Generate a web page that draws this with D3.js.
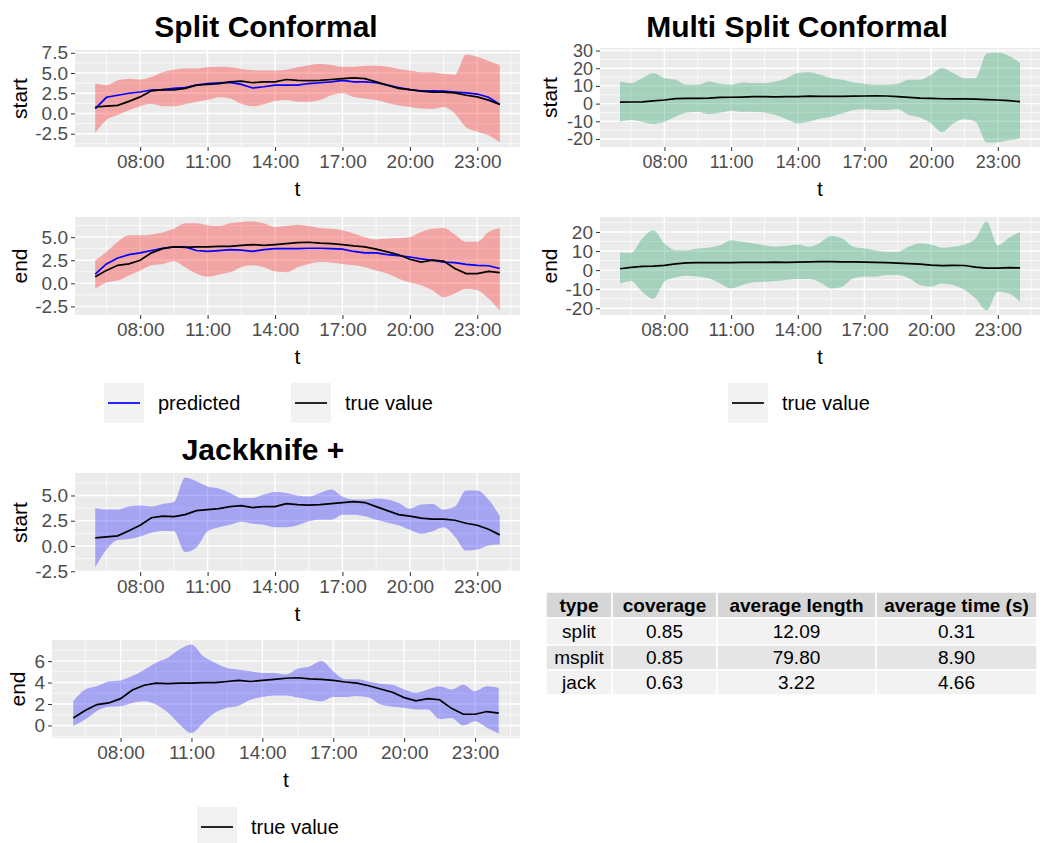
<!DOCTYPE html>
<html>
<head>
<meta charset="utf-8">
<script src="https://cdn.jsdelivr.net/npm/d3@7"></script>
<style>
  body { margin: 0; background: #fff; }
  text { font-family: "Liberation Sans", Arial, sans-serif; }
</style>
</head>
<body>
<svg id="chart" width="1043" height="843"></svg>
<script>
// time of day in hours, every half hour from 06:00 to 24:00
const hours = [6, 6.5, 7, 7.5, 8, 8.5, 9, 9.5, 10, 10.5, 11, 11.5, 12, 12.5, 13, 13.5, 14, 14.5, 15,
               15.5, 16, 16.5, 17, 17.5, 18, 18.5, 19, 19.5, 20, 20.5, 21, 21.5, 22, 22.5, 23, 23.5, 24];

// true values (shared by all methods)
const trueStart = [0.8, 0.9, 1.0, 1.5, 2.05, 2.8, 2.95, 2.9, 3.1, 3.5, 3.6, 3.7, 3.9, 4.0, 3.8, 3.9, 3.9, 4.2, 4.1,
                   4.05, 4.1, 4.2, 4.3, 4.4, 4.3, 3.9, 3.5, 3.1, 2.95, 2.75, 2.65, 2.65, 2.55, 2.25, 2.05, 1.65, 1.1];
const trueEnd = [0.7, 1.4, 1.95, 2.1, 2.5, 3.3, 3.75, 3.95, 3.9, 3.95, 3.95, 4.0, 4.0, 4.1, 4.2, 4.1, 4.2, 4.3, 4.4,
                 4.45, 4.35, 4.3, 4.2, 4.05, 3.95, 3.7, 3.4, 3.1, 2.6, 2.3, 2.5, 2.4, 1.6, 1.05, 1.05, 1.3, 1.15];

// split conformal
const splitStartPred = [0.6, 2.0, 2.25, 2.5, 2.65, 2.9, 2.95, 3.1, 3.2, 3.5, 3.7, 3.8, 3.85, 3.6, 3.15, 3.3, 3.5, 3.5, 3.5,
                        3.7, 3.8, 3.9, 4.1, 3.9, 3.9, 3.8, 3.5, 3.2, 2.95, 2.8, 2.8, 2.75, 2.65, 2.55, 2.4, 2.0, 1.1];
const splitStartLo = [-2.4, -0.8, -0.2, 0.4, 0.9, 1.2, 0.9, 0.9, 1.15, 1.45, 1.65, 2.0, 1.85, 1.2, 0.9, 1.15, 1.55, 1.65, 1.45,
                      1.45, 1.65, 2.25, 2.5, 2.05, 1.85, 1.65, 1.3, 1.0, 0.8, 0.6, 0.55, 0.8, 0.0, -1.7, -2.25, -2.7, -3.6];
const splitStartHi = [3.7, 3.5, 4.1, 4.3, 4.2, 4.5, 5.1, 5.4, 5.55, 5.55, 5.7, 5.76, 5.7, 5.5, 5.35, 5.3, 5.3, 5.4, 5.7,
                      5.97, 6.1, 6.0, 5.76, 5.76, 5.9, 5.9, 5.76, 5.5, 5.3, 5.1, 5.1, 4.9, 4.8, 7.3, 7.0, 6.5, 6.0];
const splitEndPred = [1.0, 2.1, 2.75, 3.1, 3.3, 3.55, 3.8, 3.95, 3.95, 3.55, 3.45, 3.55, 3.65, 3.6, 3.45, 3.65, 3.75, 3.75, 3.75,
                      3.8, 3.8, 3.75, 3.7, 3.45, 3.3, 3.3, 3.1, 3.0, 2.85, 2.65, 2.5, 2.3, 2.25, 2.05, 1.95, 1.9, 1.6];
const splitEndLo = [-0.6, 0.1, 0.3, 0.85, 1.4, 1.95, 2.1, 2.4, 1.75, 1.05, 0.7, 0.95, 1.2, 1.75, 1.95, 1.75, 1.3, 1.2, 1.75,
                    2.1, 2.3, 2.25, 2.1, 1.95, 1.75, 1.4, 1.05, 0.5, 0.1, -0.2, -0.75, -1.5, -1.1, -0.6, -0.75, -1.65, -2.95];
const splitEndHi = [2.5, 3.4, 4.5, 5.2, 5.2, 5.3, 5.5, 5.9, 6.5, 6.5, 6.3, 6.2, 6.5, 6.65, 6.7, 6.5, 6.1, 6.2, 6.35,
                    6.2, 6.0, 5.9, 5.75, 5.4, 5.0, 4.75, 4.85, 4.9, 5.0, 5.55, 5.9, 6.0, 5.3, 4.5, 4.5, 5.55, 6.0];

// multi split conformal
const msStartLo = [-10.3, -9.3, -10.3, -11.6, -10.3, -7.4, -5.1, -4.6, -5.9, -5.1, -4.0, -4.6, -4.6, -5.1, -6.5, -8.9, -11.2, -10.3, -8.4,
                   -7.4, -5.5, -3.6, -3.2, -3.6, -3.6, -3.2, -6.5, -7.8, -11.2, -16.0, -11.2, -8.9, -10.3, -22.0, -21.8, -20.7, -19.8];
const msStartHi = [12.5, 11.6, 14.4, 17.3, 14.4, 13.5, 10.6, 10.6, 12.5, 11.2, 10.6, 12.0, 11.6, 11.6, 12.5, 14.4, 17.3, 17.7, 16.3,
                   14.4, 13.5, 12.0, 11.2, 10.6, 10.6, 11.2, 13.5, 13.5, 16.3, 20.2, 17.3, 14.4, 14.4, 28.3, 28.9, 27.0, 23.0];
const msEndLo = [-7.0, -5.7, -11.3, -15.1, -6.0, -3.8, -3.0, -3.5, -4.3, -7.0, -9.6, -7.8, -6.4, -6.1, -5.7, -5.2, -4.7, -4.7, -6.4,
                 -9.6, -8.7, -4.3, -3.5, -3.5, -2.6, -2.6, -4.3, -7.8, -8.7, -7.0, -7.8, -10.4, -14.8, -21.2, -11.3, -12.2, -16.5];
const msEndHi = [9.2, 9.0, 16.5, 20.9, 13.9, 10.4, 10.4, 11.3, 11.7, 13.0, 15.7, 14.8, 13.9, 13.0, 12.2, 12.7, 13.4, 12.2, 14.4,
                 17.9, 16.5, 12.2, 11.3, 10.4, 9.6, 9.6, 12.2, 13.9, 13.4, 11.7, 12.2, 13.4, 16.5, 25.5, 13.0, 17.0, 20.0];

// jackknife +
const jackStartLo = [-2.13, -0.35, 0.6, 0.7, 0.95, 1.3, 1.5, 1.45, -0.6, -0.15, 1.45, 1.85, 2.1, 2.4, 2.2, 2.1, 1.85, 1.85, 2.05,
                     2.45, 2.6, 2.6, 3.1, 3.1, 2.95, 2.6, 2.3, 2.05, 1.6, 1.2, 1.45, 1.85, 0.95, -0.45, -0.35, 0.05, 0.15];
const jackStartHi = [3.75, 3.6, 3.6, 3.9, 4.0, 3.9, 4.15, 4.35, 6.78, 6.4, 5.9, 5.7, 5.25, 4.75, 4.75, 5.1, 5.35, 5.25, 5.0,
                     4.9, 5.25, 5.6, 4.9, 4.6, 4.6, 4.7, 4.6, 4.25, 3.7, 4.1, 4.15, 3.6, 3.9, 5.5, 5.5, 4.6, 2.95];
const jackEndLo = [-0.05, 0.55, 1.35, 1.75, 1.8, 2.1, 2.25, 1.95, 1.2, 0.1, -0.7, 0.25, 1.2, 1.65, 1.85, 2.4, 2.65, 2.8, 2.8,
                   2.6, 2.4, 2.25, 2.65, 2.65, 2.75, 2.6, 1.95, 1.75, 1.65, 1.5, 1.5, 0.6, 0.7, 0.0, 0.4, -0.2, -0.75];
const jackEndHi = [2.25, 3.35, 3.65, 4.1, 4.2, 4.6, 5.2, 5.85, 6.3, 7.1, 7.55, 6.45, 5.85, 5.35, 5.2, 5.05, 4.9, 4.9, 4.75,
                   5.3, 5.5, 6.0, 5.05, 4.3, 4.3, 4.1, 3.9, 3.8, 3.35, 3.05, 3.35, 3.65, 3.35, 3.8, 3.2, 3.65, 3.5];

// axis breaks
const xBreaks = [5, 8, 11, 14, 17, 20, 23];
const smallBreaks = [-2.5, 0, 2.5, 5, 7.5];
const msBreaks = [-20, -10, 0, 10, 20, 30];
const jackEndBreaks = [0, 2, 4, 6];

// summary table
const tableHead = ["type", "coverage", "average length", "average time (s)"];
const tableType = ["split", "msplit", "jack"];
const tableCoverage = ["0.85", "0.85", "0.63"];
const tableLength = ["12.09", "79.80", "3.22"];
const tableTime = ["0.31", "8.90", "4.66"];

const svg = d3.select("#chart");
const minus = s => s.replace("\u2212", "-");

function drawPanel(p) {
  const g = svg.append("g");
  const xPad = (d3.max(hours) - d3.min(hours)) * 0.05;
  const x = d3.scaleLinear()
      .domain([d3.min(hours) - xPad, d3.max(hours) + xPad])
      .range([p.x0, p.x1]);
  const all = [].concat(p.lo, p.hi, ...p.lines.map(l => l.values));
  const yMin = d3.min(all), yMax = d3.max(all), yPad = (yMax - yMin) * 0.05;
  const y = d3.scaleLinear()
      .domain([yMin - yPad, yMax + yPad])
      .range([p.y1, p.y0]);
  const [d0, d1] = y.domain();

  const yMajor = p.breaks.filter(v => v >= d0 && v <= d1);
  const step = p.breaks[1] - p.breaks[0];
  const yMinor = d3.range(p.breaks[0] - step / 2, p.breaks[p.breaks.length - 1] + step, step)
      .filter(v => v >= d0 && v <= d1);
  const xMajor = xBreaks.filter(v => v >= x.domain()[0]);
  const xMinor = xBreaks.map(v => v + 1.5).filter(v => v <= x.domain()[1]);

  g.append("rect")
      .attr("x", p.x0).attr("y", p.y0)
      .attr("width", p.x1 - p.x0).attr("height", p.y1 - p.y0)
      .attr("fill", "#EBEBEB");

  // grid
  g.selectAll(".ymin").data(yMinor).enter().append("line")
      .attr("x1", p.x0).attr("x2", p.x1).attr("y1", d => y(d)).attr("y2", d => y(d))
      .attr("stroke", "#fff").attr("stroke-width", 0.7);
  g.selectAll(".xmin").data(xMinor).enter().append("line")
      .attr("y1", p.y0).attr("y2", p.y1).attr("x1", d => x(d)).attr("x2", d => x(d))
      .attr("stroke", "#fff").attr("stroke-width", 0.7);
  g.selectAll(".ymaj").data(yMajor).enter().append("line")
      .attr("x1", p.x0).attr("x2", p.x1).attr("y1", d => y(d)).attr("y2", d => y(d))
      .attr("stroke", "#fff").attr("stroke-width", 1.4);
  g.selectAll(".xmaj").data(xMajor).enter().append("line")
      .attr("y1", p.y0).attr("y2", p.y1).attr("x1", d => x(d)).attr("x2", d => x(d))
      .attr("stroke", "#fff").attr("stroke-width", 1.4);

  // interval ribbon
  const area = d3.area()
      .x((d, i) => x(hours[i]))
      .y0((d, i) => y(p.lo[i]))
      .y1((d, i) => y(p.hi[i]))
      .curve(d3.curveMonotoneX);
  g.append("path").datum(hours)
      .attr("d", area)
      .attr("fill", p.fill).attr("fill-opacity", p.opacity);

  const line = d3.line().x((d, i) => x(hours[i])).y(d => y(d));
  p.lines.forEach(l => {
    g.append("path").datum(l.values)
        .attr("d", line)
        .attr("fill", "none").attr("stroke", l.color).attr("stroke-width", 1.7);
  });

  // axes
  const yAxis = g.append("g")
      .attr("transform", `translate(${p.x0},0)`)
      .call(d3.axisLeft(y).tickValues(yMajor).tickSize(4).tickPadding(3)
        .tickFormat(d => minus(d3.format(p.fmt)(d))));
  const xAxis = g.append("g")
      .attr("transform", `translate(0,${p.y1})`)
      .call(d3.axisBottom(x).tickValues(xMajor).tickSize(4).tickPadding(4)
        .tickFormat(d => d3.format("02d")(d) + ":00"));
  [yAxis, xAxis].forEach(a => {
    a.select(".domain").remove();
    a.selectAll(".tick line").attr("stroke", "#333");
    a.selectAll(".tick text").attr("fill", "#4D4D4D")
        .style("font-size", p.tickSize || "19px").style("font-family", '"Liberation Sans", Arial, sans-serif');
  });

  g.append("text")
      .attr("x", (p.x0 + p.x1) / 2).attr("y", p.y1 + 49)
      .attr("text-anchor", "middle").style("font-size", "21px")
      .text("t");
  g.append("text")
      .attr("transform", `translate(${p.ylabX},${(p.y0 + p.y1) / 2}) rotate(-90)`)
      .attr("text-anchor", "middle").attr("dy", "0.35em").style("font-size", "21px")
      .text(p.ylab);
}

function drawTitle(label, cx, y) {
  svg.append("text")
      .attr("x", cx).attr("y", y)
      .attr("text-anchor", "middle")
      .style("font-size", "30px").style("font-weight", "bold")
      .text(label);
}

function drawLegend(items, y) {
  items.forEach(it => {
    svg.append("rect")
        .attr("x", it.x).attr("y", y).attr("width", 40).attr("height", 40)
        .attr("fill", "#F2F2F2");
    svg.append("line")
        .attr("x1", it.x + 4).attr("x2", it.x + 36)
        .attr("y1", y + 20).attr("y2", y + 20)
        .attr("stroke", it.color).attr("stroke-width", 1.7);
    svg.append("text")
        .attr("x", it.x + 54).attr("y", y + 20).attr("dy", "0.35em")
        .style("font-size", "20px")
        .text(it.label);
  });
}

const red = "#FF0000", green = "#239E62", blue = "#0000FF";

drawTitle("Split Conformal", 266, 37);
drawPanel({ x0: 75, x1: 520, y0: 50, y1: 147, lo: splitStartLo, hi: splitStartHi, fill: red, opacity: 0.3,
  lines: [{ values: splitStartPred, color: blue }, { values: trueStart, color: "#000" }],
  breaks: smallBreaks, fmt: ".1f", ylab: "start", ylabX: 20 });
drawPanel({ x0: 75, x1: 520, y0: 217, y1: 315, lo: splitEndLo, hi: splitEndHi, fill: red, opacity: 0.3,
  lines: [{ values: splitEndPred, color: blue }, { values: trueEnd, color: "#000" }],
  breaks: smallBreaks, fmt: ".1f", ylab: "end", ylabX: 20 });
drawLegend([{ x: 104, color: blue, label: "predicted" }, { x: 291, color: "#000", label: "true value" }], 383);

drawTitle("Multi Split Conformal", 797, 37);
drawPanel({ x0: 600, x1: 1040, y0: 48, y1: 147, lo: msStartLo, hi: msStartHi, fill: green, opacity: 0.35,
  lines: [{ values: trueStart, color: "#000" }],
  breaks: msBreaks, fmt: "d", ylab: "start", ylabX: 550, tickSize: "18px" });
drawPanel({ x0: 600, x1: 1040, y0: 217, y1: 315, lo: msEndLo, hi: msEndHi, fill: green, opacity: 0.35,
  lines: [{ values: trueEnd, color: "#000" }],
  breaks: msBreaks, fmt: "d", ylab: "end", ylabX: 550 });
drawLegend([{ x: 728, color: "#000", label: "true value" }], 383);

drawTitle("Jackknife +", 263, 460);
drawPanel({ x0: 75, x1: 520, y0: 473, y1: 572, lo: jackStartLo, hi: jackStartHi, fill: blue, opacity: 0.3,
  lines: [{ values: trueStart, color: "#000" }],
  breaks: smallBreaks, fmt: ".1f", ylab: "start", ylabX: 20 });
drawPanel({ x0: 52, x1: 520, y0: 640, y1: 738, lo: jackEndLo, hi: jackEndHi, fill: blue, opacity: 0.3,
  lines: [{ values: trueEnd, color: "#000" }],
  breaks: jackEndBreaks, fmt: "d", ylab: "end", ylabX: 18 });
drawLegend([{ x: 197, color: "#000", label: "true value" }], 807);

// table
const colEdges = [546, 612, 717, 876, 1037];
const rowEdges = [592, 618, 645, 670, 695];
const rows = [tableHead].concat(tableType.map((t, i) => [t, tableCoverage[i], tableLength[i], tableTime[i]]));
const tg = svg.append("g");
rows.forEach((r, ri) => {
  r.forEach((cell, ci) => {
    const x0 = colEdges[ci], x1 = colEdges[ci + 1], y0 = rowEdges[ri], y1 = rowEdges[ri + 1];
    tg.append("rect")
        .attr("x", x0).attr("y", y0).attr("width", x1 - x0).attr("height", y1 - y0)
        .attr("fill", ri === 0 ? "#D6D6D6" : (ri % 2 === 1 ? "#F2F2F2" : "#E5E5E5"))
        .attr("stroke", "#fff").attr("stroke-width", 1.5);
    tg.append("text")
        .attr("x", (x0 + x1) / 2).attr("y", (y0 + y1) / 2).attr("dy", "0.35em")
        .attr("text-anchor", "middle")
        .style("font-size", "19px").style("font-weight", ri === 0 ? "bold" : "normal")
        .text(cell);
  });
});
</script>
</body>
</html>
